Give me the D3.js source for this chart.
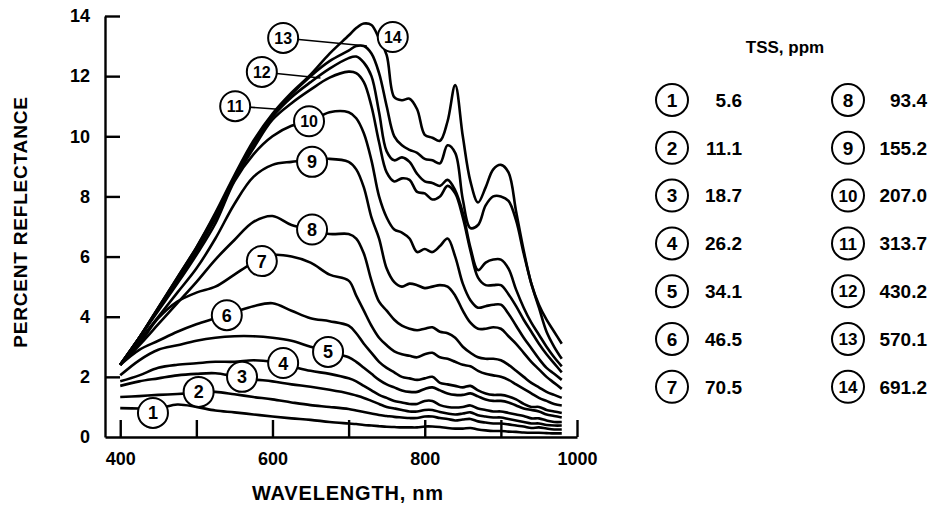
<!DOCTYPE html>
<html><head><meta charset="utf-8">
<script src="https://cdn.jsdelivr.net/npm/d3@7"></script>
<style>
body{margin:0;background:#fff}
svg{display:block}
text{font-family:"Liberation Sans",Arial,Helvetica,sans-serif;font-weight:bold;fill:#000}
</style>
</head><body>
<svg id="chart" width="933" height="508"></svg>
<script>
// ---- data ----
const wavelengths = [400,425,450,475,500,525,550,575,600,625,650,675,700,710,720,730,740,750,760,770,780,790,800,810,820,830,840,850,860,870,880,890,900,910,920,930,940,950,960,970,980];
const c1  = [0.96,0.95,0.95,1.08,1.0,0.88,0.82,0.75,0.68,0.62,0.57,0.5,0.45,0.43,0.4,0.38,0.36,0.34,0.33,0.32,0.32,0.32,0.35,0.35,0.33,0.3,0.28,0.28,0.3,0.25,0.22,0.2,0.2,0.18,0.17,0.15,0.14,0.14,0.13,0.12,0.12];
const c2  = [1.33,1.36,1.4,1.43,1.47,1.5,1.42,1.33,1.25,1.15,1.06,1.0,0.93,0.88,0.83,0.78,0.73,0.7,0.67,0.65,0.63,0.63,0.68,0.68,0.63,0.6,0.55,0.58,0.6,0.52,0.48,0.45,0.45,0.42,0.38,0.35,0.3,0.32,0.28,0.25,0.25];
const c3  = [1.7,1.85,1.95,2.05,2.1,2.12,2.02,1.92,1.85,1.75,1.67,1.57,1.45,1.38,1.3,1.2,1.1,1.0,0.95,0.9,0.85,0.85,0.9,0.9,0.83,0.78,0.75,0.78,0.82,0.72,0.68,0.65,0.65,0.6,0.55,0.5,0.45,0.45,0.4,0.38,0.38];
const c4  = [1.85,2.05,2.3,2.4,2.45,2.5,2.5,2.55,2.5,2.35,2.2,2.1,1.95,1.85,1.7,1.55,1.4,1.3,1.2,1.15,1.1,1.1,1.2,1.2,1.06,1.0,0.98,1.0,1.05,0.95,0.9,0.85,0.85,0.8,0.75,0.7,0.62,0.62,0.55,0.5,0.5];
const c5  = [2.05,2.55,2.9,3.05,3.2,3.3,3.35,3.35,3.3,3.2,3.0,2.83,2.65,2.5,2.3,2.1,1.9,1.75,1.65,1.55,1.5,1.5,1.6,1.65,1.55,1.45,1.4,1.4,1.45,1.35,1.25,1.2,1.2,1.15,1.05,0.95,0.9,0.85,0.75,0.7,0.65];
const c6  = [2.4,2.9,3.2,3.5,3.75,3.95,4.15,4.35,4.45,4.2,3.95,3.85,3.7,3.45,3.1,2.8,2.5,2.3,2.15,2.0,1.95,1.9,1.95,2.0,1.8,1.75,1.7,1.65,1.7,1.55,1.45,1.4,1.4,1.35,1.25,1.1,1.0,1.0,0.9,0.85,0.8];
const c7  = [2.4,3.1,3.95,4.5,4.8,5.0,5.4,5.8,6.05,6.0,5.8,5.4,5.2,4.7,4.2,3.7,3.3,3.05,2.85,2.75,2.7,2.65,2.75,2.8,2.65,2.6,2.5,2.4,2.35,2.2,2.1,2.05,2.0,1.9,1.75,1.6,1.45,1.3,1.2,1.1,1.05];
const c8  = [2.4,3.05,3.75,4.45,5.15,5.9,6.55,7.15,7.35,7.05,6.9,6.75,6.75,6.6,6.1,5.2,4.5,4.2,3.9,3.7,3.6,3.55,3.6,3.65,3.5,3.45,3.3,3.0,2.8,2.65,2.6,2.6,2.55,2.4,2.2,2.0,1.8,1.65,1.5,1.4,1.3];
const c9  = [2.4,3.2,4.0,4.8,5.6,6.6,7.75,8.65,9.05,9.15,9.2,9.25,9.15,8.9,8.3,7.3,6.6,5.6,5.15,5.0,5.1,5.05,4.95,5.0,5.05,5.0,4.7,4.2,3.8,3.6,3.6,3.65,3.6,3.35,3.1,2.8,2.5,2.25,2.0,1.8,1.6];
const c10 = [2.4,3.3,4.2,5.1,6.05,7.1,8.5,9.4,10.0,10.35,10.5,10.8,10.8,10.6,10.1,9.2,8.0,7.3,6.9,6.8,6.6,6.15,6.25,6.15,6.35,6.6,6.0,5.1,4.55,4.3,4.35,4.4,4.4,4.1,3.7,3.3,2.95,2.6,2.3,2.1,1.9];
const c11 = [2.4,3.3,4.25,5.2,6.15,7.25,8.55,9.6,10.55,11.1,11.55,11.95,12.15,12.1,11.8,11.0,9.8,8.8,8.5,8.6,8.55,8.15,8.1,7.9,8.0,8.35,8.1,7.3,6.2,5.3,5.05,5.05,5.05,4.75,4.35,3.9,3.5,3.1,2.75,2.45,2.15];
const c12 = [2.4,3.3,4.28,5.25,6.25,7.35,8.6,9.7,10.65,11.3,11.8,12.25,12.6,12.65,12.45,12.0,10.8,9.5,9.2,9.3,9.15,8.75,8.5,8.45,8.35,8.55,8.2,7.45,6.3,5.55,5.8,5.9,5.9,5.6,4.9,4.3,3.8,3.4,3.0,2.65,2.35];
const c13 = [2.4,3.3,4.3,5.3,6.3,7.4,8.65,9.8,10.7,11.4,12.0,12.5,12.85,13.0,13.0,12.75,12.1,11.0,10.0,9.7,9.55,9.45,9.25,9.2,9.1,9.7,9.45,7.9,6.95,7.05,7.7,8.0,8.0,7.85,7.2,6.1,5.1,4.3,3.5,3.0,2.6];
const c14 = [2.4,3.3,4.3,5.3,6.3,7.45,8.7,9.85,10.75,11.45,12.05,12.75,13.35,13.6,13.75,13.7,13.25,12.7,11.3,11.2,11.25,10.9,10.05,9.95,9.85,10.5,11.7,10.0,8.5,7.8,8.3,8.9,9.05,8.8,7.5,6.2,5.1,4.4,3.9,3.5,3.1];
const series = [c1,c2,c3,c4,c5,c6,c7,c8,c9,c10,c11,c12,c13,c14];
const curveIds = [1,2,3,4,5,6,7,8,9,10,11,12,13,14];
// curve label positions (wavelength, reflectance)
const labelWl  = [443,503,560,614,673,540,586,652,652,648,551,586,614,758];
const labelVal = [0.8,1.5,2.0,2.46,2.83,4.05,5.85,6.9,9.15,10.5,11.0,12.14,13.27,13.3];
// leader lines for labels 11,12,13
const leaderIds = [11,12,13];
const leaderEndWl = [608,663,724];
const leaderEndVal = [10.9,11.94,13.0];
const tssValues = ["5.6","11.1","18.7","26.2","34.1","46.5","70.5","93.4","155.2","207.0","313.7","430.2","570.1","691.2"];
const xTicks = [400,500,600,700,800,900,1000];
const xTickLabels = [400,600,800,1000];
const yTicks = [0,2,4,6,8,10,12,14];

// ---- drawing ----
const svg = d3.select("#chart");
const x = d3.scaleLinear().domain([380,1000]).range([105,577]);
const y = d3.scaleLinear().domain([0,14]).range([437,16]);

const yAxis = d3.axisLeft(y).tickValues(yTicks).tickSizeInner(-15).tickSizeOuter(0).tickPadding(15);
const gy = svg.append("g").attr("transform","translate(105,0)").call(yAxis);
gy.selectAll("text").style("font-size","18px");
const xAxis = d3.axisBottom(x).tickValues(xTicks).tickSizeInner(-17).tickSizeOuter(0).tickPadding(15)
  .tickFormat(d => xTickLabels.includes(d) ? d : "");
const gx = svg.append("g").attr("transform","translate(0,437)").call(xAxis);
gx.selectAll("text").style("font-size","18px");
svg.selectAll(".domain, .tick line").attr("stroke","#000").attr("stroke-width",2.4);
gy.selectAll(".tick").filter(d => d===0).select("line").remove();

svg.append("text").attr("transform","translate(27,222) rotate(-90)").attr("text-anchor","middle")
  .style("font-size","19px").style("letter-spacing","0.8px").text("PERCENT REFLECTANCE");
svg.append("text").attr("x",348).attr("y",500).attr("text-anchor","middle")
  .style("font-size","20px").style("letter-spacing","0.8px").text("WAVELENGTH, nm");

const line = d3.line().x((d,i)=>x(wavelengths[i])).y(d=>y(d)).curve(d3.curveCatmullRom.alpha(0.5));
svg.append("g").selectAll("path").data(series).join("path")
  .attr("d", d => line(d)).attr("fill","none").attr("stroke","#000").attr("stroke-width",2.6)
  .attr("stroke-linejoin","round");

const lg = svg.append("g");
leaderIds.forEach((id,k) => {
  const i = curveIds.indexOf(id);
  lg.append("line").attr("x1",x(labelWl[i])).attr("y1",y(labelVal[i]))
    .attr("x2",x(leaderEndWl[k])).attr("y2",y(leaderEndVal[k]))
    .attr("stroke","#000").attr("stroke-width",1.6);
});

const lab = svg.append("g").selectAll("g").data(curveIds).join("g")
  .attr("transform",(d,i)=>`translate(${x(labelWl[i])},${y(labelVal[i])})`);
lab.append("circle").attr("r",15).attr("fill","#fff").attr("stroke","#000").attr("stroke-width",2);
lab.append("text").attr("text-anchor","middle").attr("dy","0.36em").style("font-size",d=>d>9?"16px":"18px").text(d=>d);

svg.append("text").attr("x",785).attr("y",53).attr("text-anchor","middle").style("font-size","17px").text("TSS, ppm");
const leg = svg.append("g").selectAll("g").data(curveIds).join("g")
  .attr("transform",(d,i)=>`translate(${i<7?672:848},${100+(i%7)*47.8})`);
leg.append("circle").attr("r",16).attr("fill","#fff").attr("stroke","#000").attr("stroke-width",2);
leg.append("text").attr("text-anchor","middle").attr("dy","0.36em").style("font-size",d=>d>9?"17px":"19px").text(d=>d);
leg.append("text").attr("x",(d,i)=> i<7 ? 70 : 79).attr("text-anchor","end").attr("dy","0.36em")
  .style("font-size","19px").text((d,i)=>tssValues[i]);
</script>
</body></html>
